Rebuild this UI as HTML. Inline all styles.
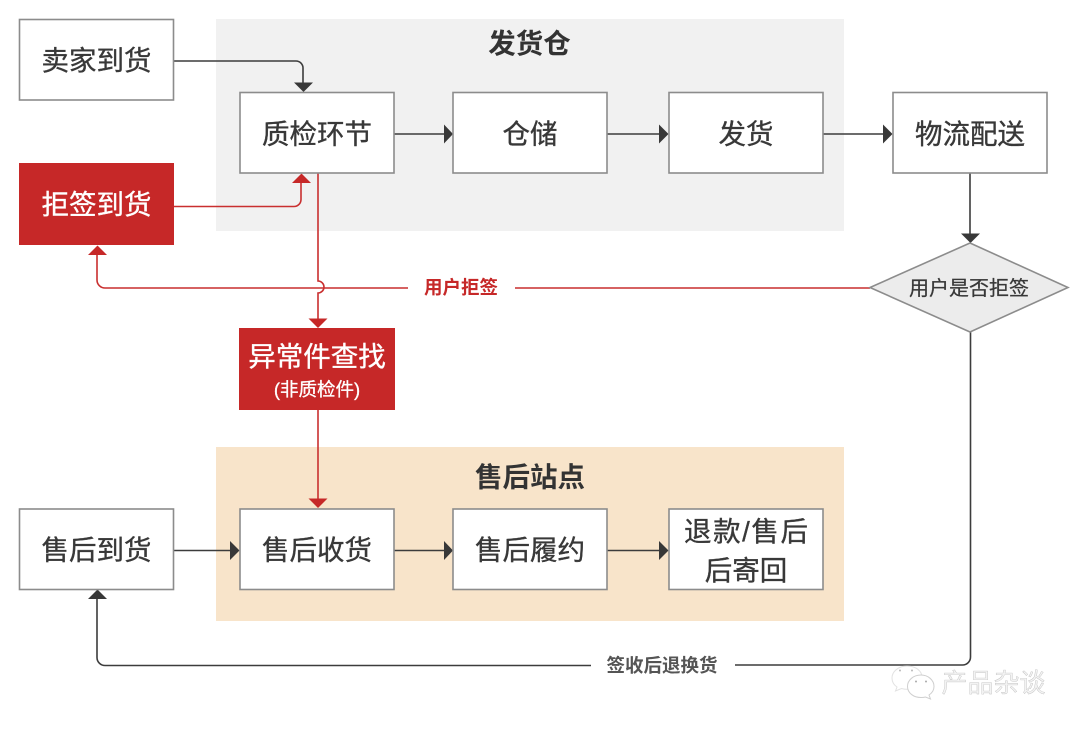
<!DOCTYPE html>
<html lang="zh">
<head>
<meta charset="utf-8">
<title>Diagram</title>
<style>
html,body{margin:0;padding:0;background:#fff;width:1080px;height:730px;overflow:hidden}
svg{display:block}
text{font-family:"Liberation Sans","Noto Sans CJK SC",sans-serif;text-anchor:middle}
.b{fill:#fff;stroke:#8c8c8c;stroke-width:1.6}
.t{font-size:27.5px;fill:#383838;stroke:#383838;stroke-width:.35}
.w{font-size:27.5px;fill:#fff;stroke:#fff;stroke-width:.35}
.h{font-size:27.5px;fill:#333;font-weight:700}
.k{fill:none;stroke:#3c3c3c;stroke-width:1.6}
.r{fill:none;stroke:#c92f2f;stroke-width:1.6}
</style>
</head>
<body>
<svg width="1080" height="730" viewBox="0 0 1080 730" xmlns="http://www.w3.org/2000/svg">
<rect x="216" y="19" width="628" height="212" fill="#f1f1f1"/>
<rect x="216" y="447" width="628" height="174" fill="#f8e4ca"/>

<!-- dark connectors -->
<path class="k" d="M174 61H296a7 7 0 0 1 7 7V84"/>
<path d="M294 82.500h19l-9.500 9.500z" fill="#383838"/>
<path class="k" d="M394 134H445"/><path d="M444 124.500v19l9 -9.500z" fill="#383838"/>
<path class="k" d="M607 134H660"/><path d="M659 124.500v19l9.500 -9.500z" fill="#383838"/>
<path class="k" d="M823 134H884"/><path d="M883 124.500v19l9.500 -9.500z" fill="#383838"/>
<path class="k" d="M970 173V235"/><path d="M961 233.500h19l-9.500 9.500z" fill="#383838"/>
<path class="k" d="M174 550.500H231"/><path d="M230 541v19l9.500 -9.500z" fill="#383838"/>
<path class="k" d="M394 550.500H445"/><path d="M444 541v19l9 -9.500z" fill="#383838"/>
<path class="k" d="M607 550.500H660"/><path d="M659 541v19l9.500 -9.500z" fill="#383838"/>
<path class="k" d="M970.500 332V657a8 8 0 0 1 -8 8H735"/>
<path class="k" d="M591 665.500H105a8 8 0 0 1 -8 -8V598"/>
<path d="M88 599h19l-9.500 -9.500z" fill="#383838"/>

<!-- red connectors -->
<path class="r" d="M174 206.500H294a7 7 0 0 0 7 -7V182"/>
<path d="M292 183h19l-9.500 -9.500z" fill="#c62828"/>
<path class="r" d="M318 173V281a6 6 0 0 1 0 12V320"/>
<path d="M308.500 318.500h19l-9.500 9.500z" fill="#c62828"/>
<path class="r" d="M408 288H105a8 8 0 0 1 -8 -8V254"/>
<path d="M88 255h19l-9.500 -9.500z" fill="#c62828"/>
<path class="r" d="M515 288H870"/>
<path class="r" d="M318 410V500"/>
<path d="M308.500 498.500h19l-9.500 9.500z" fill="#c62828"/>

<!-- boxes -->
<rect class="b" x="19.500" y="19.500" width="154" height="80.500"/>
<rect class="b" x="240" y="92.500" width="154" height="80.500"/>
<rect class="b" x="453" y="92.500" width="154" height="80.500"/>
<rect class="b" x="669" y="92.500" width="154" height="80.500"/>
<rect class="b" x="893" y="92.500" width="154" height="80.500"/>
<rect x="19" y="163" width="155" height="82" fill="#c62828"/>
<rect x="239" y="328" width="156" height="82" fill="#c62828"/>
<rect class="b" x="19.500" y="509" width="154" height="80.500"/>
<rect class="b" x="240" y="509" width="154" height="80.500"/>
<rect class="b" x="453" y="509" width="154" height="80.500"/>
<rect class="b" x="669" y="509" width="154" height="80.500"/>
<polygon points="970,243 1068,287.500 970,332 870,287.500" fill="#ececec" stroke="#8c8c8c" stroke-width="1.600"/>

<!-- labels -->
<text class="h" x="529.500" y="53">发货仓</text>
<text class="h" x="530" y="486.500">售后站点</text>
<text class="t" x="96.500" y="70">卖家到货</text>
<text class="t" x="317" y="143.500">质检环节</text>
<text class="t" x="530" y="143.500">仓储</text>
<text class="t" x="746" y="143.500">发货</text>
<text class="t" x="970" y="143.500">物流配送</text>
<text class="w" x="96.500" y="214">拒签到货</text>
<text class="w" x="317" y="366">异常件查找</text>
<text x="317" y="396" font-size="18.500" fill="#fff" stroke="#fff" stroke-width=".3">(非质检件)</text>
<text x="969" y="295" font-size="20" fill="#383838" stroke="#383838" stroke-width=".25">用户是否拒签</text>
<text x="461" y="294" font-size="18.500" font-weight="700" fill="#c62828">用户拒签</text>
<text x="662" y="672" font-size="18.500" font-weight="700" fill="#555">签收后退换货</text>
<text class="t" x="96.500" y="559.500">售后到货</text>
<text class="t" x="317" y="559.500">售后收货</text>
<text class="t" x="530" y="559.500">售后履约</text>
<text class="t" x="746" y="541" textLength="124" lengthAdjust="spacing">退款/售后</text>
<text class="t" x="746" y="580">后寄回</text>

<!-- watermark -->
<g fill="#fff" stroke="#cfcfcf" stroke-width="1">
<path d="M907 666c-8.500 0-15 5.500-15 12 0 4 2 7 5 9l-1.500 4 6-2.500c2 .6 3.500 .8 5.500 .8 8.500 0 15-5.500 15-12s-6.500-11.300-15-11.300z" stroke="#e2e2e2"/>
<path d="M921 675c-7.500 0-13.500 5-13.500 11.500s6 11 13.500 11c2 0 3 0 4.500-.5l5 2-1.500-4c3-2 5-5 5-8.500 0-6.500-6-11.500-13-11.500z"/>
</g>
<circle cx="900" cy="670.500" r="1" fill="#bbb"/><circle cx="912" cy="670.500" r="1" fill="#bbb"/>
<circle cx="916" cy="681.500" r="1" fill="#aaa"/><circle cx="926" cy="681.500" r="1" fill="#aaa"/>
<text x="993.500" y="692" font-size="26" fill="#f3f3f3" stroke="#b8b8b8" stroke-width=".35">产品杂谈</text>
</svg>
</body>
</html>
